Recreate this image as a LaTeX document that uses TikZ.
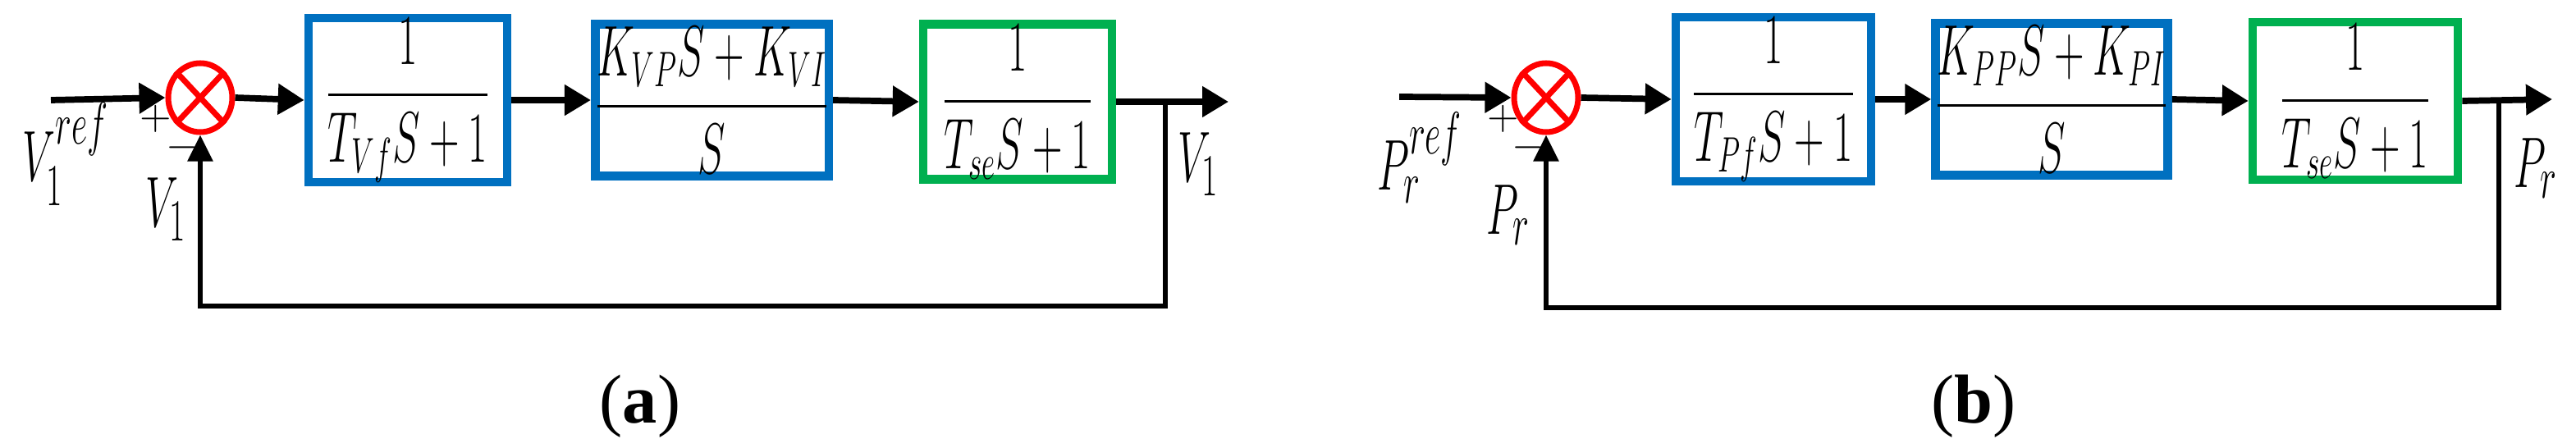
\documentclass[tikz,border=0pt]{standalone}
\usepackage{amsmath}
\usepackage{fontspec}
\setmainfont{Liberation Serif}
\usetikzlibrary{arrows.meta,shapes.geometric}
\definecolor{boxblue}{RGB}{0,112,192}
\definecolor{boxgreen}{RGB}{0,176,80}
\newcommand{\nar}[1]{\scalebox{0.58}[1]{#1}}
\tikzset{
  blk/.style={draw=boxblue,line width=3pt,minimum width=2.4cm,minimum height=1.85cm,inner sep=0pt,font=\fontsize{25}{29}\selectfont},
  gblk/.style={blk,draw=boxgreen},
  summ/.style={draw=red,line width=2pt,ellipse,minimum width=0.78cm,minimum height=0.84cm,inner sep=0pt},
  sig/.style={line width=2.2pt,-{Triangle[length=0.32cm,width=0.36cm]}},
  fb/.style={line width=1.6pt,-{Triangle[length=0.32cm,width=0.3cm]}},
  lab/.style={font=\fontsize{28}{32}\selectfont,inner sep=0pt},
  sgn/.style={font=\fontsize{14}{16}\selectfont,inner sep=0pt}
}
\begin{document}
\begin{tikzpicture}
\useasboundingbox (0,0) rectangle (31.39,-5.46);

% ---------- panel (a) ----------
\coordinate (ina) at (0.62,-1.22);
\coordinate (outa) at (14.97,-1.24);
\coordinate (tapa) at (14.2,-1.24);
\coordinate (bra) at (14.2,-3.73);
\coordinate (bla) at (2.44,-3.73);

\node[summ] (sa) at (2.44,-1.19) {};
\draw[red,line width=2pt] (sa.north west) -- (sa.south east);
\draw[red,line width=2pt] (sa.north east) -- (sa.south west);

\node[blk,minimum width=2.42cm] (a1) at (4.97,-1.22) {\nar{$\dfrac{1}{T_{Vf}S+1}$}};
\node[blk,minimum width=2.31cm] (a2) at (8.675,-1.22) {\nar{$\dfrac{K_{VP}S+K_{VI}}{S}$}};
\node[gblk,minimum width=2.3cm] (a3) at (12.4,-1.24) {\nar{$\dfrac{1}{T_{se}S+1}$}};

\draw[sig] (ina) -- (sa.west);
\draw[sig] (sa.east) -- (a1.west);
\draw[sig] (a1.east) -- (a2.west);
\draw[sig] (a2.east) -- (a3.west);
\draw[sig] (a3.east) -- (outa);
\draw[fb] (tapa) -- (bra) -- (bla) -- (sa.south);

\node[lab] (vref) at (0.8,-1.88) {\nar{$V_1^{ref}$}};
\node[sgn] (pa) at (1.9,-1.45) {$+$};
\node[sgn] (ma) at (2.22,-1.8) {$-$};
\node[lab] (vfb) at (2.02,-2.55) {\nar{$V_1$}};
\node[lab] (vout) at (14.6,-2.0) {\nar{$V_1$}};
\node[font=\fontsize{24}{28}\selectfont] (capa) at (7.8,-4.95) {(\textbf{a})};

% ---------- panel (b) ----------
\coordinate (inb) at (17.05,-1.18);
\coordinate (outb) at (31.10,-1.21);
\coordinate (tapb) at (30.45,-1.21);
\coordinate (brb) at (30.45,-3.75);
\coordinate (blb) at (18.84,-3.75);

\node[summ] (sb) at (18.84,-1.19) {};
\draw[red,line width=2pt] (sb.north west) -- (sb.south east);
\draw[red,line width=2pt] (sb.north east) -- (sb.south west);

\node[blk,minimum width=2.38cm] (b1) at (21.61,-1.21) {\nar{$\dfrac{1}{T_{Pf}S+1}$}};
\node[blk,minimum width=2.4cm] (b2) at (25.0,-1.21) {\nar{$\dfrac{K_{PP}S+K_{PI}}{S}$}};
\node[gblk,minimum width=2.5cm,minimum height=1.92cm] (b3) at (28.7,-1.23) {\nar{$\dfrac{1}{T_{se}S+1}$}};

\draw[sig] (inb) -- (sb.west);
\draw[sig] (sb.east) -- (b1.west);
\draw[sig] (b1.east) -- (b2.west);
\draw[sig] (b2.east) -- (b3.west);
\draw[sig] (b3.east) -- (outb);
\draw[fb] (tapb) -- (brb) -- (blb) -- (sb.south);

\node[lab] (pref) at (17.3,-1.92) {\nar{$P_r^{ref}$}};
\node[sgn] (pb) at (18.32,-1.45) {$+$};
\node[sgn] (mb) at (18.62,-1.8) {$-$};
\node[lab] (pfb) at (18.38,-2.62) {\nar{$P_r$}};
\node[lab] (pout) at (30.9,-2.05) {\nar{$P_r$}};
\node[font=\fontsize{24}{28}\selectfont] (capb) at (24.05,-4.95) {(\textbf{b})};

\end{tikzpicture}
\end{document}
